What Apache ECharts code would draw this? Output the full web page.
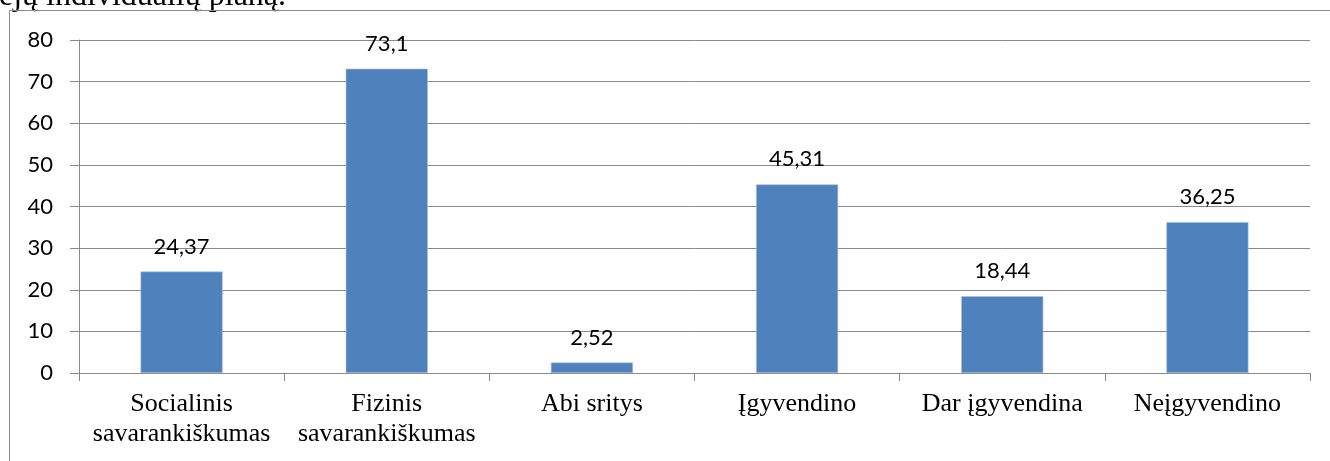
<!DOCTYPE html>
<html>
<head>
<meta charset="utf-8">
<script src="https://cdn.jsdelivr.net/npm/echarts@6/dist/echarts.min.js"></script>
<style>
  html, body { margin: 0; padding: 0; background: #fff; }
  #chart { width: 1330px; height: 461px; }
</style>
</head>
<body>
<div id="chart"></div>
<script>
// Categories and percentages
const categories = [
  'Socialinis\nsavarankiškumas',
  'Fizinis\nsavarankiškumas',
  'Abi sritys',
  'Įgyvendino',
  'Dar įgyvendina',
  'Neįgyvendino'
];
const values = [24.37, 73.1, 2.52, 45.31, 18.44, 36.25];
const yTicks = { min: 0, max: 80, interval: 10 };
const captionTail = 'ėjų individualių planą.';

const gray = '#8a8a8a';
const serif = '"Liberation Serif", "Times New Roman", serif';
const sans = 'Lato, "Noto Sans", sans-serif';
const chart = echarts.init(document.getElementById('chart'), null, { renderer: 'canvas' });

chart.setOption({
  animation: false,
  backgroundColor: '#fff',
  grid: { left: 79, right: 20, top: 40, bottom: 88, containLabel: false },
  graphic: [
    {
      // tail of the running text line above the chart frame
      type: 'text',
      x: -1,
      y: -19,
      style: {
        text: captionTail,
        fontFamily: serif,
        fontSize: 32,
        fill: '#000',
        verticalAlign: 'top'
      }
    },
    {
      type: 'polyline',
      shape: { points: [[9.5, 461], [9.5, 10.5], [1330, 10.5]] },
      style: { stroke: gray, lineWidth: 1, fill: null }
    }
  ],
  xAxis: {
    type: 'category',
    data: categories,
    boundaryGap: true,
    axisLine: { show: true, lineStyle: { color: gray, width: 1 } },
    axisTick: { show: true, length: 8, alignWithLabel: false, lineStyle: { color: gray } },
    axisLabel: {
      interval: 0,
      margin: 16,
      color: '#000',
      fontFamily: serif,
      fontSize: 26,
      lineHeight: 30
    },
    splitLine: { show: false }
  },
  yAxis: {
    type: 'value',
    min: yTicks.min,
    max: yTicks.max,
    interval: yTicks.interval,
    axisLine: { show: true, lineStyle: { color: gray, width: 1 } },
    axisTick: { show: true, length: 9, lineStyle: { color: gray } },
    axisLabel: {
      margin: 26,
      color: '#000',
      fontFamily: sans,
      fontSize: 22
    },
    splitLine: { show: true, lineStyle: { color: gray, width: 1 } }
  },
  series: [{
    type: 'bar',
    data: values,
    barWidth: '40%',
    itemStyle: { color: '#4F81BD', borderColor: '#A9C0DE', borderWidth: 0.6 },
    label: {
      show: true,
      position: 'top',
      distance: 14,
      color: '#000',
      fontFamily: sans,
      fontSize: 22,
      formatter: p => String(p.value).replace('.', ',')
    }
  }]
});
</script>
</body>
</html>
